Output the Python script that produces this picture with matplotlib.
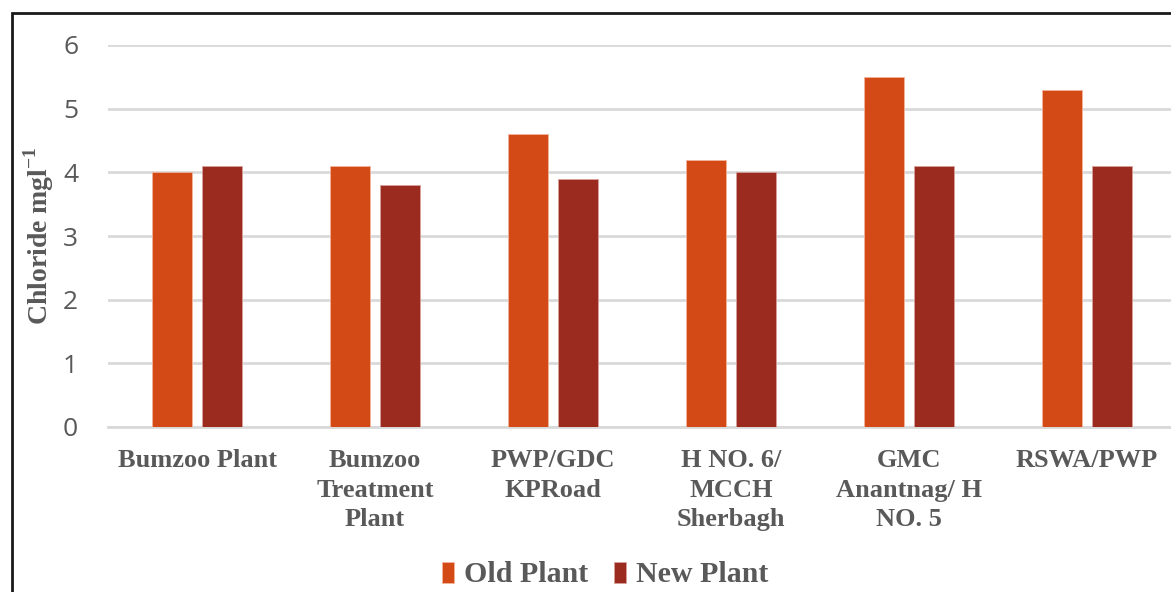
import matplotlib
matplotlib.use("Agg")
import matplotlib.pyplot as plt
from matplotlib.patches import Rectangle
import numpy as np

plt.rcParams["mathtext.fontset"] = "custom"
plt.rcParams["mathtext.rm"] = "Liberation Serif"
plt.rcParams["mathtext.bf"] = "Liberation Serif:bold"

# Sampling sites and chloride concentrations (mg/l)
sites = ["Bumzoo Plant", "Bumzoo\nTreatment\nPlant", "PWP/GDC\nKPRoad",
         "H NO. 6/\nMCCH\nSherbagh", "GMC\nAnantnag/ H\nNO. 5", "RSWA/PWP"]
old_plant = [4.0, 4.1, 4.6, 4.2, 5.5, 5.3]
new_plant = [4.1, 3.8, 3.9, 4.0, 4.1, 4.1]
y_ticks = [0, 1, 2, 3, 4, 5, 6]

OLD_COLOR = "#D34A17"
NEW_COLOR = "#9B2B1F"
TEXT_GRAY = "#595959"

fig = plt.figure(figsize=(11.71, 5.92), dpi=100)
W, H = 1171, 592
ax = fig.add_axes([108 / W, 1 - 427 / H, 1068 / W, (427 - 45) / H])

x = np.arange(len(sites))
bw = 0.225
off = 0.143
ax.bar(x - off, old_plant, bw, color=OLD_COLOR, edgecolor="#F2B49C",
       linewidth=0.6, label="Old Plant", zorder=3)
ax.bar(x + off, new_plant, bw, color=NEW_COLOR, edgecolor="#D9A09A",
       linewidth=0.6, label="New Plant", zorder=3)

ax.set_xlim(-0.5, len(sites) - 0.5)
ax.set_ylim(0, 6)
ax.set_yticks(y_ticks)
ax.set_yticklabels([str(t) for t in y_ticks], fontsize=19, color=TEXT_GRAY,
                   family="Open Sans")
ax.yaxis.grid(True, color="#D9D9D9", linewidth=2, zorder=0)
ax.tick_params(axis="y", length=0, pad=21.5)
ax.tick_params(axis="x", length=0, pad=16)
ax.set_xticks(x)
ax.set_xticklabels(sites, fontsize=19, fontweight="bold", color=TEXT_GRAY,
                   family="Liberation Serif", linespacing=1.36, va="top")
for s in ["top", "right", "left"]:
    ax.spines[s].set_visible(False)
ax.spines["bottom"].set_color("#D9D9D9")
ax.spines["bottom"].set_linewidth(2)

ax.set_ylabel(r"Chloride mgl$^{\mathbf{-1}}$", fontsize=20, fontweight="bold",
              color="#595959", family="Liberation Serif")
ax.yaxis.set_label_coords(-52 / 1068, 0.5)

leg = fig.legend(loc="center", bbox_to_anchor=(605 / W, 1 - 575 / H), ncol=2,
                 frameon=False, handlelength=0.4, handleheight=0.7,
                 handletextpad=0.35, columnspacing=0.85,
                 prop={"family": "Liberation Serif", "weight": "bold", "size": 21.5})
for t in leg.get_texts():
    t.set_color(TEXT_GRAY)

# Outer frame of the chart area
fig.patches.append(Rectangle((11.5 / W, -0.1), 1.2, 1 - 13 / H + 0.1,
                             transform=fig.transFigure, fill=False,
                             edgecolor="#1a1a1a", linewidth=2))

fig.savefig("out.png", dpi=100)
